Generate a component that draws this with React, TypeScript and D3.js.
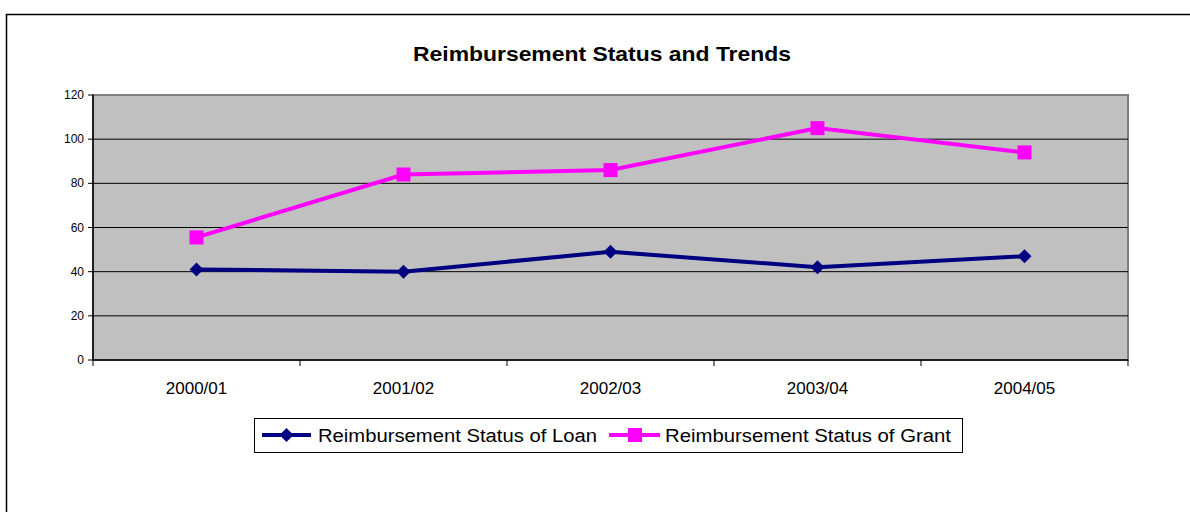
import React from "react";
import * as d3 from "d3";

const categories = ["2000/01", "2001/02", "2002/03", "2003/04", "2004/05"];
const loanValues = [41, 40, 49, 42, 47];
const grantValues = [55.5, 84, 86, 105, 94];
const yTicks = [0, 20, 40, 60, 80, 100, 120];
const seriesNames = ["Reimbursement Status of Loan", "Reimbursement Status of Grant"];

const W = 1190;
const H = 512;
const plot = { left: 93, top: 95, right: 1128, bottom: 360 };
const font = "'Liberation Sans', Arial, sans-serif";

export default function App() {
  const x = d3.scaleBand<string>().domain(categories).range([plot.left, plot.right]);
  const y = d3.scaleLinear().domain([0, 120]).range([plot.bottom, plot.top]);
  const cx = (c: string) => (x(c) as number) + x.bandwidth() / 2;
  const line = d3
    .line<number>()
    .x((_, i) => cx(categories[i]))
    .y((d) => y(d));
  const diamond = (px: number, py: number, r: number) =>
    `M${px},${py - r}L${px + r},${py}L${px},${py + r}L${px - r},${py}Z`;

  const boundaries = [...categories.map((c) => x(c) as number), plot.right];

  return (
    <svg
      width={W}
      height={H}
      style={{ position: "absolute", left: 0, top: 0, fontFamily: font }}
    >
      <rect x={0} y={0} width={W} height={H} fill="#fff" />
      <rect x={6.5} y={14.5} width={1300} height={700} fill="none" stroke="#000" strokeWidth={1.5} />
      <text
        x={413}
        y={61}
        fontSize={21}
        fontWeight="bold"
        fill="#000"
        textLength={378}
        lengthAdjust="spacingAndGlyphs"
      >
        Reimbursement Status and Trends
      </text>
      {/* plot area */}
      <rect
        x={plot.left}
        y={plot.top}
        width={plot.right - plot.left}
        height={plot.bottom - plot.top}
        fill="#C0C0C0"
        stroke="#808080"
        strokeWidth={2}
      />
      {yTicks.map((t) => (
        <g key={t}>
          {t > 0 && t < 120 && (
            <line x1={plot.left} x2={plot.right} y1={y(t)} y2={y(t)} stroke="#000" strokeWidth={1} />
          )}
          <line x1={plot.left - 5} x2={plot.left} y1={y(t)} y2={y(t)} stroke="#000" strokeWidth={1} />
          <text x={plot.left - 9} y={y(t) + 4} textAnchor="end" fontSize={12} fill="#000">
            {t}
          </text>
        </g>
      ))}
      <line x1={plot.left} x2={plot.left} y1={plot.top} y2={plot.bottom} stroke="#000" strokeWidth={1.5} />
      <line x1={plot.left} x2={plot.right} y1={plot.bottom} y2={plot.bottom} stroke="#000" strokeWidth={1.5} />
      {boundaries.map((b, i) => (
        <line key={i} x1={b} x2={b} y1={plot.bottom} y2={plot.bottom + 6} stroke="#000" strokeWidth={1} />
      ))}
      {categories.map((c) => (
        <text key={c} x={cx(c)} y={394} textAnchor="middle" fontSize={17} fill="#000">
          {c}
        </text>
      ))}
      {/* series */}
      <path d={line(grantValues) || ""} fill="none" stroke="#FF00FF" strokeWidth={4} />
      {grantValues.map((v, i) => (
        <rect key={i} x={cx(categories[i]) - 7} y={y(v) - 7} width={14} height={14} fill="#FF00FF" />
      ))}
      <path d={line(loanValues) || ""} fill="none" stroke="#000080" strokeWidth={4} />
      {loanValues.map((v, i) => (
        <path key={i} d={diamond(cx(categories[i]), y(v), 7)} fill="#000080" />
      ))}
      {/* legend */}
      <rect x={254.5} y={418.5} width={708} height={34} fill="#fff" stroke="#000" strokeWidth={1} />
      <line x1={262} x2={311} y1={435} y2={435} stroke="#000080" strokeWidth={4} />
      <path d={diamond(286.5, 435, 7)} fill="#000080" />
      <text x={318} y={442} fontSize={18} fill="#000" textLength={279} lengthAdjust="spacingAndGlyphs">
        {seriesNames[0]}
      </text>
      <line x1={609} x2={660} y1={435} y2={435} stroke="#FF00FF" strokeWidth={4} />
      <rect x={628} y={428} width={14} height={14} fill="#FF00FF" />
      <text x={665} y={442} fontSize={18} fill="#000" textLength={286} lengthAdjust="spacingAndGlyphs">
        {seriesNames[1]}
      </text>
    </svg>
  );
}
